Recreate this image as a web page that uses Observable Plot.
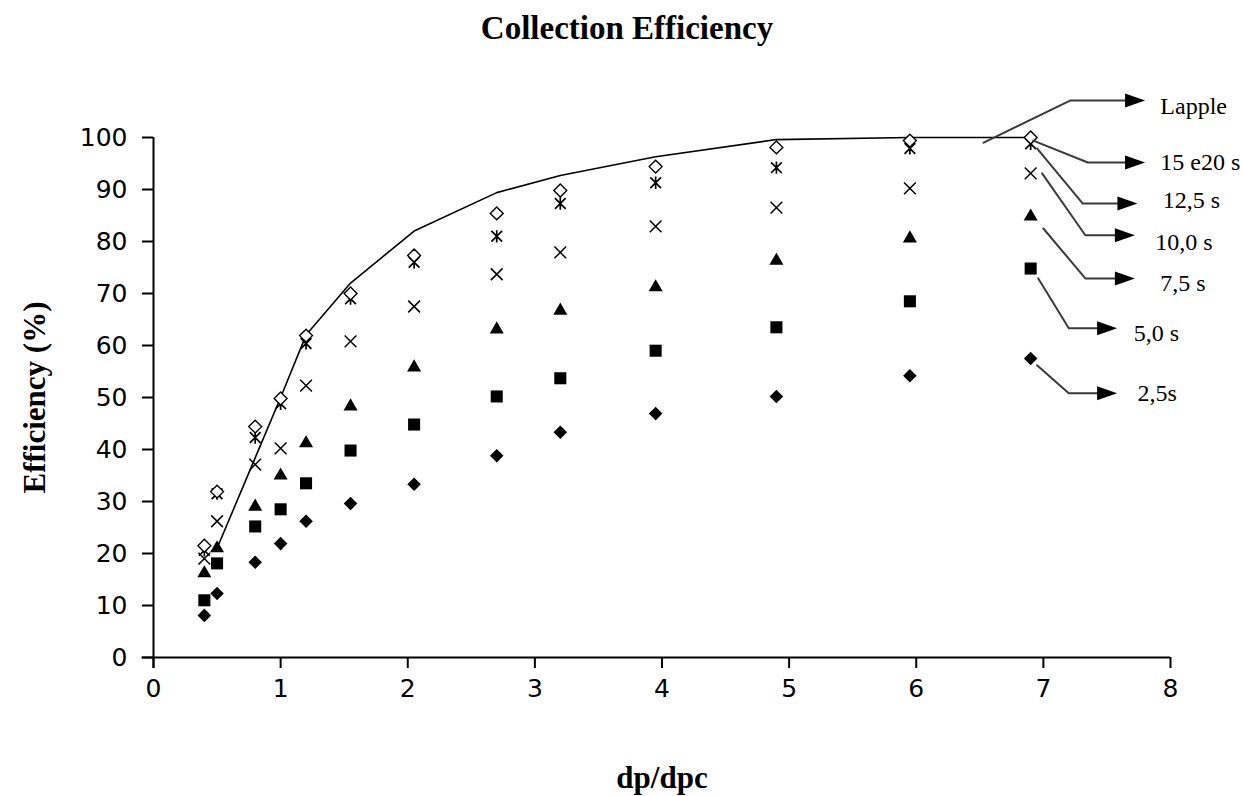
<!DOCTYPE html>
<html>
<head>
<meta charset="utf-8">
<script src="https://cdn.jsdelivr.net/npm/d3@7"></script>
<script src="https://cdn.jsdelivr.net/npm/@observablehq/plot@0.6"></script>
<style>
  html, body { margin: 0; padding: 0; background: #fff; }
</style>
</head>
<body>
<div id="chart"></div>
<script>
// ---- data ----
const dpRatio = [0.4, 0.5, 0.8, 1.0, 1.2, 1.55, 2.05, 2.7, 3.2, 3.95, 4.9, 5.95, 6.9];
const eff2_5  = [8.1, 12.3, 18.3, 21.9, 26.2, 29.6, 33.3, 38.8, 43.3, 46.9, 50.2, 54.2, 57.5];
const eff5_0  = [11.0, 18.1, 25.2, 28.5, 33.5, 39.8, 44.8, 50.2, 53.7, 59.0, 63.5, 68.5, 74.8];
const eff7_5  = [16.2, 21.0, 29.0, 35.0, 41.2, 48.3, 55.8, 63.1, 66.7, 71.2, 76.3, 80.6, 84.8];
const eff10_0 = [19.0, 26.2, 37.1, 40.2, 52.3, 60.8, 67.5, 73.7, 77.9, 82.9, 86.5, 90.2, 93.1];
const eff12_5 = [20.6, 31.5, 42.3, 48.8, 60.4, 69.0, 76.0, 81.0, 87.3, 91.3, 94.2, 97.9, 98.8];
const eff15_20 = [21.5, 31.9, 44.4, 49.8, 61.9, 70.0, 77.3, 85.4, 89.8, 94.4, 98.1, 99.4, 100];

const lappleX = [0.5, 1.0, 1.2, 1.55, 2.05, 2.7, 3.2, 3.95, 4.9, 5.95, 6.9];
const lappleY = [21, 50, 62, 72, 82, 89.4, 92.7, 96.3, 99.6, 100, 100];

const xTicks = [0, 1, 2, 3, 4, 5, 6, 7, 8];
const yTicks = [0, 10, 20, 30, 40, 50, 60, 70, 80, 90, 100];

const titleText = "Collection Efficiency";
const xLabel = "dp/dpc";
const yLabel = "Efficiency (%)";

// callout labels and their anchor points in data units (start, bend, arrow tip, label)
const calloutLabels = ["Lapple", "15 e20 s", "12,5 s", "10,0 s", "7,5 s", "5,0 s", "2,5s"];
const calloutStart = [[6.53, 99.0], [6.92, 99.4], [6.95, 97.9], [6.99, 93.1], [7.00, 82.5], [6.96, 72.9], [6.95, 56.2]];
const calloutBend  = [[7.21, 107.1], [7.35, 95.2], [7.31, 87.3], [7.33, 81.2], [7.33, 72.9], [7.20, 63.3], [7.20, 50.8]];
const calloutTip   = [[7.80, 107.1], [7.80, 95.2], [7.74, 87.3], [7.72, 81.2], [7.72, 72.9], [7.58, 63.3], [7.58, 50.8]];
const calloutText  = [[7.92, 106.0], [7.92, 95.2], [7.94, 87.9], [7.88, 79.8], [7.92, 71.9], [7.71, 62.3], [7.74, 50.8]];

// ---- build tables ----
const rows = (vals) => dpRatio.map((x, i) => ({x, y: vals[i]}));
const lapple = lappleX.map((x, i) => ({x, y: lappleY[i]}));
const leaders = calloutLabels.flatMap((label, i) => [
  {label, x: calloutStart[i][0], y: calloutStart[i][1]},
  {label, x: calloutBend[i][0], y: calloutBend[i][1]},
  {label, x: calloutTip[i][0] - 0.1, y: calloutTip[i][1]}
]);
const tips = calloutLabels.map((label, i) => ({label, x: calloutTip[i][0], y: calloutTip[i][1]}));
const labels = calloutLabels.map((label, i) => ({label, x: calloutText[i][0], y: calloutText[i][1]}));

// custom symbols
const arrowHead = {
  draw(ctx) {
    ctx.moveTo(0, 0);
    ctx.lineTo(-20, -7);
    ctx.lineTo(-20, 7);
    ctx.closePath();
  }
};
const star = {
  draw(ctx, size) {
    const r = Math.sqrt(size) * 0.55;
    ctx.moveTo(-r, -r); ctx.lineTo(r, r);
    ctx.moveTo(-r, r); ctx.lineTo(r, -r);
    ctx.moveTo(0, -r * 1.15); ctx.lineTo(0, r * 1.15);
  }
};

const serif = "'Liberation Serif', 'Times New Roman', serif";

const chart = Plot.plot({
  width: 1243,
  height: 796,
  marginLeft: 153,
  marginRight: 73,
  marginTop: 137,
  marginBottom: 139,
  style: {fontFamily: "'DejaVu Sans', Verdana, sans-serif", fontSize: "25px", color: "#000", background: "#fff"},
  x: {domain: [0, 8]},
  y: {domain: [0, 100]},
  marks: [
    Plot.axisY({ticks: yTicks, tickSize: 11, tickPadding: 15, strokeWidth: 2, fontSize: 25, label: null, tickFormat: d => String(d)}),
    Plot.axisX({ticks: xTicks, tickSize: 11, tickPadding: 11, strokeWidth: 2, fontSize: 25, label: null, tickFormat: d => String(d)}),
    Plot.ruleX([0], {y1: -2.1, y2: 100, strokeWidth: 2, stroke: "#000"}),
    Plot.ruleY([0], {x1: -0.09, x2: 8, strokeWidth: 2, stroke: "#000"}),
    Plot.line(lapple, {x: "x", y: "y", stroke: "#000", strokeWidth: 1.6}),
    Plot.dot(rows(eff2_5), {x: "x", y: "y", symbol: "diamond2", r: 6.1, fill: "#000", stroke: "none"}),
    Plot.dot(rows(eff5_0), {x: "x", y: "y", symbol: "square", r: 6.8, fill: "#000", stroke: "none"}),
    Plot.dot(rows(eff7_5), {x: "x", y: "y", symbol: "triangle", r: 5.2, fill: "#000", stroke: "none"}),
    Plot.dot(rows(eff10_0), {x: "x", y: "y", symbol: "times", r: 5.4, fill: "none", stroke: "#000", strokeWidth: 1.5}),
    Plot.dot(rows(eff12_5), {x: "x", y: "y", symbol: star, r: 5.5, fill: "none", stroke: "#000", strokeWidth: 1.7}),
    Plot.dot(rows(eff15_20), {x: "x", y: "y", symbol: "diamond2", r: 5.8, fill: "#fff", stroke: "#000", strokeWidth: 1.4}),
    // callouts
    Plot.line(leaders, {x: "x", y: "y", z: "label", stroke: "#3a3a3a", strokeWidth: 2}),
    Plot.dot(tips, {x: "x", y: "y", symbol: arrowHead, r: 6, fill: "#000", stroke: "none"}),
    Plot.text(labels, {x: "x", y: "y", text: "label", textAnchor: "start", fontFamily: serif, fontSize: 24, fill: "#000"}),
    // titles
    Plot.text([titleText], {text: d => d, frameAnchor: "top", dy: -109, dx: -35, lineAnchor: "middle", textAnchor: "middle", fontFamily: serif, fontWeight: "bold", fontSize: 33, fill: "#000"}),
    Plot.text([xLabel], {text: d => d, frameAnchor: "bottom", dy: 121, lineAnchor: "middle", textAnchor: "middle", fontFamily: serif, fontWeight: "bold", fontSize: 31, fill: "#000"}),
    Plot.text([yLabel], {text: d => d, frameAnchor: "left", dx: -118, rotate: -90, lineAnchor: "middle", textAnchor: "middle", fontFamily: serif, fontWeight: "bold", fontSize: 31, fill: "#000"})
  ]
});
document.getElementById("chart").appendChild(chart);
</script>
</body>
</html>
